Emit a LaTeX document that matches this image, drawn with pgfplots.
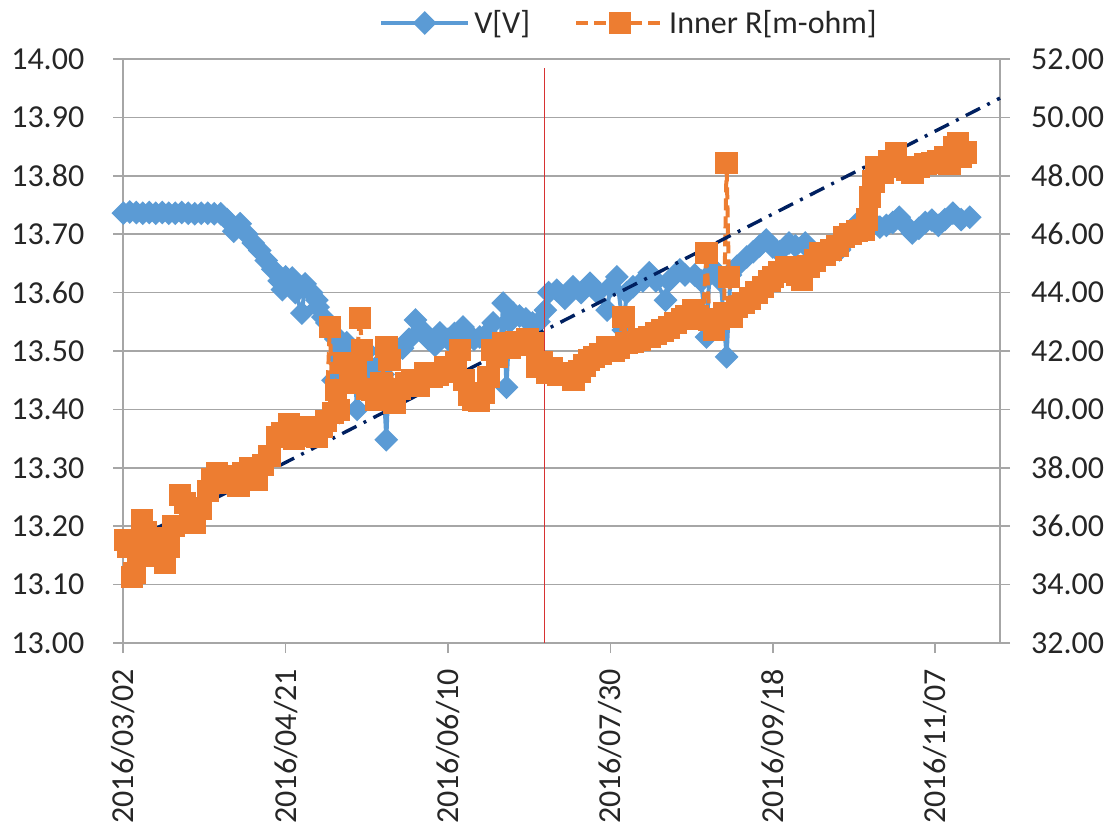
\documentclass[border=0pt]{standalone}
\usepackage{pgfplots}
\pgfplotsset{compat=1.18}
\usepackage{fontspec}
\setmainfont{Carlito}
\definecolor{vblue}{HTML}{5B9BD5}
\definecolor{vorange}{HTML}{ED7D31}
\definecolor{navy}{HTML}{002060}
\definecolor{redline}{RGB}{215,50,50}
\definecolor{gridgray}{HTML}{A6A6A6}
\definecolor{txt}{HTML}{262626}
\pgfplotsset{
  common/.style={
    scale only axis, width=438.35pt, height=292pt,
    at={(0,0)}, anchor=south west,
    xmin=0, xmax=270, clip=false,
    axis line style={line width=0.8pt, color=gridgray, -},
    tick style={line width=0.8pt, color=gridgray},
    tick align=outside, major tick length=5pt,
    ticklabel style={text=txt, font=\fontsize{16}{19}\selectfont},
    scaled y ticks=false,
    yticklabel style={/pgf/number format/fixed, /pgf/number format/fixed zerofill,
      /pgf/number format/precision=2, /pgf/number format/assume math mode=true},
  }
}
\begin{document}
\begin{tikzpicture}[font=\fontsize{16}{19}\selectfont]
\useasboundingbox (-61.65pt,-92.5pt) rectangle (493.85pt,321.5pt);
\begin{axis}[common,
  ymin=13, ymax=14,
  axis y line*=left, axis x line*=bottom,
  xtick={0,50,100,150,200,250},
  xticklabels={2016/03/02,2016/04/21,2016/06/10,2016/07/30,2016/09/18,2016/11/07},
  xticklabel style={rotate=90, anchor=east, xshift=-4.5pt},
  yticklabel style={xshift=-11pt},
  ytick={13,13.1,13.2,13.3,13.4,13.5,13.6,13.7,13.8,13.9,14},
  ymajorgrids, grid style={line width=0.8pt, color=gridgray},
]
\addplot[color=vblue, line width=2pt, mark=square*, mark size=3.2pt,
  mark options={rotate=45, fill=vblue, draw=vblue}] table {
x y
0 13.736
2 13.738
4 13.737
6 13.736
8 13.737
10 13.736
12 13.737
14 13.736
16 13.736
18 13.737
20 13.736
22 13.735
24 13.736
26 13.736
28 13.735
30 13.735
32 13.725
34 13.705
36 13.718
38 13.70
40 13.685
42 13.672
44 13.655
46 13.64
48 13.62
49 13.605
50 13.627
52 13.625
53 13.60
55 13.565
56 13.615
58 13.60
59.6 13.587
60 13.575
61.5 13.558
62.7 13.548
64 13.53
64.6 13.45
65.5 13.52
66.7 13.519
68 13.50
68.8 13.514
70 13.46
70.8 13.50
72 13.40
73 13.47
75 13.50
76 13.44
78 13.473
80 13.46
81 13.348
82 13.49
84 13.50
86 13.505
88 13.52
90 13.553
92 13.536
94 13.52
96 13.51
97.5 13.531
100 13.52
102 13.53
104.6 13.541
106 13.53
108 13.52
109.8 13.524
112 13.53
113.9 13.548
116 13.50
117 13.582
118 13.438
119 13.55
120 13.565
122 13.56
124 13.555
126 13.548
128 13.55
130 13.57
131 13.60
133.5 13.604
136 13.59
138.5 13.61
141 13.60
143.7 13.616
146 13.60
149 13.57
150 13.61
152 13.627
154 13.536
155 13.60
157 13.61
160 13.62
162 13.634
164 13.62
167 13.587
168 13.62
171.4 13.639
173 13.63
176 13.63
178 13.62
179.6 13.524
180.5 13.63
182 13.639
184 13.62
185.8 13.49
187 13.63
189 13.645
192 13.661
194 13.67
196 13.68
198 13.69
200 13.678
202 13.67
205 13.685
207 13.68
210 13.685
212 13.67
215 13.668
218 13.675
220.6 13.673
223 13.69
225 13.70
227 13.724
229 13.715
231 13.72
233 13.712
235 13.715
237 13.72
239 13.729
241 13.715
243 13.702
245 13.71
247 13.72
249 13.724
251 13.715
253 13.725
255.5 13.736
258 13.725
260.7 13.729
};
\end{axis}
\begin{axis}[common,
  ymin=32, ymax=52,
  axis y line*=right, axis x line=none,
  ytick={32,34,36,38,40,42,44,46,48,50,52},
  yticklabel style={xshift=7pt},
  legend columns=-1,
  legend image code/.code={\draw[mark repeat=2,mark phase=2,#1] plot coordinates {(0pt,0pt) (21.75pt,0pt) (43.5pt,0pt)};},
  legend style={draw=none, fill=none, at={(0.578,1.0616)}, anchor=center,
    font=\fontsize{16}{19}\selectfont, text=txt,
    /tikz/every even column/.append style={column sep=20pt}},
]
\addlegendimage{color=vblue, line width=2pt, mark=square*, mark size=3.2pt,
  mark options={rotate=45, fill=vblue, draw=vblue}}
\addlegendentry{V[V]}
\addplot[color=vorange, line width=2pt, dash pattern=on 6pt off 3pt, mark=square*, mark size=4.6pt,
  mark options={solid, fill=vorange, draw=vorange}] table {
x y
0.5 35.53
1.5 35.3
2.7 34.26
3.5 34.4
4.5 35.0
5.7 36.21
7 35.8
8.2 35.29
10 35.6
11.5 35.0
12.8 34.74
14 35.3
15.5 36.0
17.5 37.07
19 36.8
20.5 36.5
22 36.11
24 36.6
26 37.2
27.5 37.6
28.8 37.82
30.5 37.5
32 37.7
33.8 37.58
35.5 37.4
37 37.8
39 38.0
41 37.58
43 38.1
45 38.4
47.3 39.05
49 39.2
51 39.5
52.5 39.0
54.4 39.29
56 39.4
58 39.1
59.6 39.05
61 39.4
62.5 39.6
63.6 42.82
64.6 39.88
65.5 40.66
66.5 39.98
68 41.59
70 40.9
71.5 41.3
72.9 43.13
73.5 42.03
75 40.7
76.5 40.66
78 40.32
79.5 40.9
81 42.14
82 41.7
83.5 40.22
85 40.7
87 40.9
89 41.0
91 40.8
93 41.25
95 41.1
97 41.2
99 41.45
101 41.3
102.5 41.6
103.7 42.03
105 41.0
106.5 40.5
107.8 40.32
109.5 40.3
111 40.56
112.5 41.11
113.5 42.03
115 41.8
117 42.27
119 42.1
121 42.3
123 42.2
124.5 42.4
126.2 42.27
127.5 41.45
129 41.6
130.5 41.25
132 41.4
134 41.2
136.6 41.25
138.6 41.0
140.5 41.3
142 41.5
143.5 41.69
145 41.8
147 41.9
149 42.14
151 42.0
152.5 42.1
154 43.16
155 42.27
157 42.3
159 42.4
162 42.48
164 42.6
166 42.7
168 42.8
170 42.96
172 43.1
173.5 43.2
175.5 43.4
177 43.2
178.5 43.1
179.6 45.36
180.5 43.06
182 42.72
183.5 43.1
185 43.3
185.8 48.44
186.5 44.53
187.5 43.16
189 43.5
191 43.64
193 43.8
195 44.0
197 44.19
199 44.4
200 44.53
202 44.7
204 44.88
206 44.7
207.5 44.6
209 44.43
211 44.9
213 45.1
214.5 45.36
216 45.3
218 45.46
220 45.6
222 45.9
224 46.0
226 46.1
228 46.14
229 46.5
230 47.27
231 47.8
232 48.3
234 48.1
236 48.5
238 48.78
240 48.3
241.5 48.2
243 48.1
245 48.3
247 48.4
249 48.44
251 48.5
253 48.64
254.5 48.4
256 48.99
257 49.1
258 48.64
259.5 48.8
};
\addlegendentry{Inner R[m-ohm]}
\addplot[color=navy, line width=1.7pt, dash pattern=on 8pt off 4pt on 1.5pt off 4pt, forget plot]
  coordinates {(0.2,35.36) (270,50.66)};
\addplot[color=redline, line width=0.6pt, forget plot]
  coordinates {(129.8,32) (129.8,51.69)};
\end{axis}
\end{tikzpicture}
\end{document}
